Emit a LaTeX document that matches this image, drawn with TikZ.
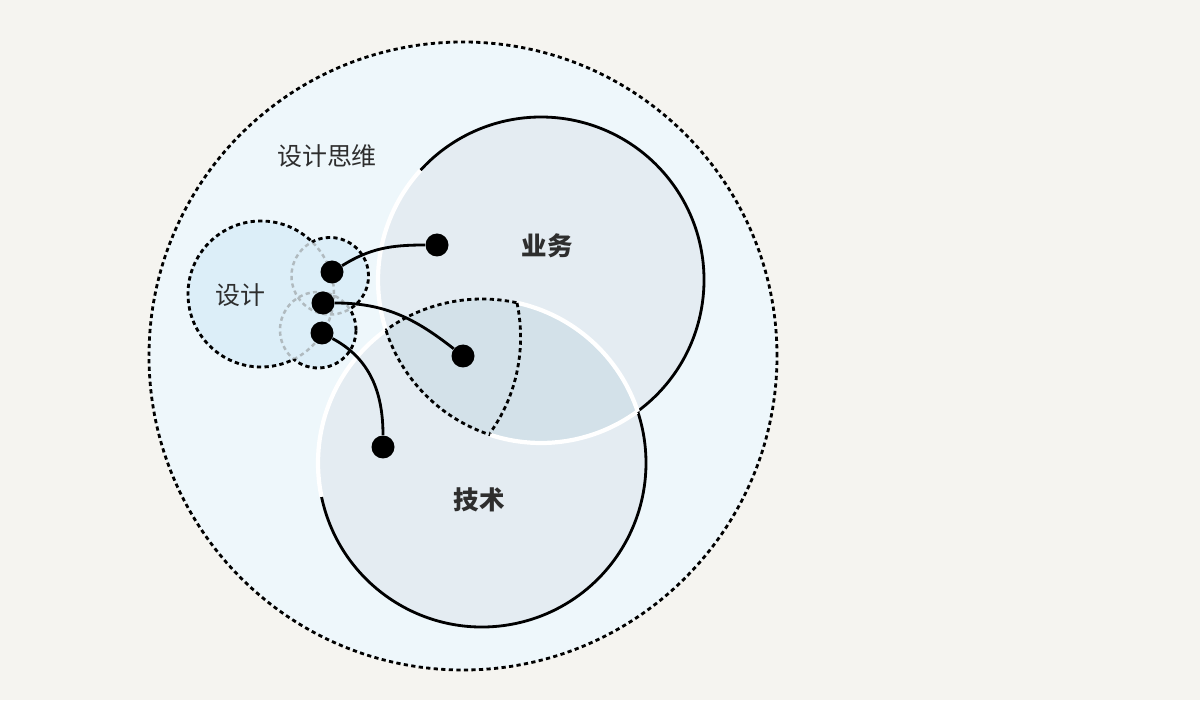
\documentclass[tikz,border=0pt]{standalone}
\usepackage{fontspec}
\newfontfamily\cjk{Noto Sans CJK SC}
\definecolor{bg}{HTML}{F5F4F0}
\definecolor{outerfill}{HTML}{EEF7FB}
\definecolor{circfill}{HTML}{E4ECF2}
\definecolor{lensfill}{HTML}{D3E1E9}
\definecolor{designfill}{HTML}{DCEEF8}
\definecolor{txt}{HTML}{2E2E2E}
\definecolor{faint}{HTML}{B0BABF}
\begin{document}
\begin{tikzpicture}[x=0.02cm,y=0.02cm,
  solidline/.style={line width=1.6pt},
  dsh/.style={line width=1.6pt, dash pattern=on 2.4pt off 1.9pt},
  faintdsh/.style={line width=1.4pt, faint, dash pattern=on 2.4pt off 1.9pt},
  dot/.style={circle, fill=black, inner sep=0pt, minimum size=0.46cm},
  conn/.style={line width=1.6pt},
  wline/.style={white, line width=2.4pt},
  lbl/.style={font=\cjk\fontsize{14.2pt}{16pt}\selectfont, text=txt},
  lblb/.style={font=\cjk\bfseries\fontsize{14.5pt}{16pt}\selectfont, text=txt},
  ]
\fill[bg] (0,0) rectangle (1200,700);
\useasboundingbox (0,0) rectangle (1200,700);
\coordinate (O) at (463,344);
\coordinate (B) at (541,420);
\coordinate (T) at (482,237);
\coordinate (G) at (261,406);
\coordinate (S1) at (330,424);
\coordinate (S2) at (318,370);
% outer
\fill[outerfill] (O) circle[radius=314];
\draw[dsh] (O) circle[radius=314];
% business and technology
\fill[circfill] (B) circle[radius=163];
\fill[circfill] (T) circle[radius=164];
\begin{scope}
  \clip (B) circle[radius=163];
  \fill[lensfill] (T) circle[radius=164];
\end{scope}
% black arcs
\draw[solidline] (B) ++(-54:163) arc[start angle=-54, end angle=137.7, radius=163];
\draw[solidline] (T) ++(191.9:164) arc[start angle=191.9, end angle=378.2, radius=164];
% white arcs
\draw[wline] (B) ++(137.7:163) arc[start angle=137.7, end angle=198.2, radius=163];
\draw[wline] (B) ++(251.8:163) arc[start angle=251.8, end angle=306, radius=163];
\draw[wline] (T) ++(126:164) arc[start angle=126, end angle=191.9, radius=164];
\draw[wline] (T) ++(18.2:164) arc[start angle=18.2, end angle=77.9, radius=164];
% dashed lens part
\draw[dsh] (B) ++(198.2:163) arc[start angle=198.2, end angle=251.8, radius=163];
\draw[dsh] (T) ++(77.9:164) arc[start angle=77.9, end angle=126, radius=164];
\coordinate (L1) at (517,397);
\coordinate (L2) at (490,267);
\draw[dsh] (L1) .. controls (525,360) and (521,310) .. (L2);
% design circles
\fill[designfill] (G) circle[radius=73];
\fill[designfill] (S1) circle[radius=38.5];
\fill[designfill] (S2) circle[radius=38];
\draw[faintdsh] (G) circle[radius=73];
\draw[faintdsh] (S1) circle[radius=38.5];
\draw[faintdsh] (S2) circle[radius=38];
\begin{scope}[even odd rule]
  \clip (0,0) rectangle (1200,700) (S1) circle[radius=38.5];
  \clip (0,0) rectangle (1200,700) (S2) circle[radius=38];
  \draw[dsh] (G) circle[radius=73];
\end{scope}
\begin{scope}[even odd rule]
  \clip (0,0) rectangle (1200,700) (G) circle[radius=73];
  \clip (0,0) rectangle (1200,700) (S2) circle[radius=38];
  \draw[dsh] (S1) circle[radius=38.5];
\end{scope}
\begin{scope}[even odd rule]
  \clip (0,0) rectangle (1200,700) (G) circle[radius=73];
  \clip (0,0) rectangle (1200,700) (S1) circle[radius=38.5];
  \draw[dsh] (S2) circle[radius=38];
\end{scope}
% dots and connectors
\node[dot] (d1) at (332,428) {};
\node[dot] (e1) at (437,455) {};
\node[dot] (d2) at (323,397) {};
\node[dot] (e2) at (463,344) {};
\node[dot] (d3) at (322,367) {};
\node[dot] (e3) at (383,253) {};
\draw[conn] (d1) to[out=32,in=180] (e1);
\draw[conn] (d2) to[out=0,in=142] (e2);
\draw[conn] (d3) to[out=-28,in=90] (e3);
% labels
\node[lbl] (tthink) at (327,544) {设计思维};
\node[lblb] (tbiz) at (547,454) {业务};
\node[lblb] (ttech) at (479,200) {技术};
\node[lbl] (tdesign) at (240,405) {设计};
\end{tikzpicture}
\end{document}
